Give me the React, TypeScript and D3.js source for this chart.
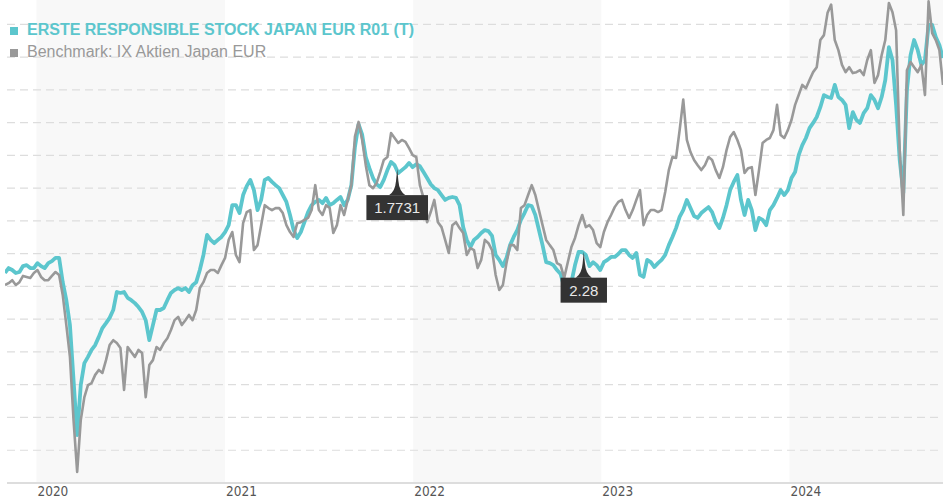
import React from "react";
import * as d3 from "d3";

// Weekly observations starting 2019-11-01 (indexed performance)
const fundValues: number[] = [
  124.1, 125.6, 125.0, 124.1, 124.4, 126.2, 126.5, 125.6, 125.6, 127.1,
  126.2, 125.6, 127.1, 127.7, 128.7, 128.7, 121.3, 115.8, 108.2, 91.4,
  74.6, 89.9, 96.6, 98.5, 100.6, 102.1, 104.6, 107.3, 108.8, 110.4,
  112.8, 118.3, 118.0, 118.3, 116.5, 115.8, 114.9, 113.7, 112.2, 109.7,
  103.6, 108.2, 112.8, 112.8, 113.4, 115.8, 118.0, 118.9, 119.5, 118.9,
  119.5, 118.3, 120.4, 121.3, 125.0, 129.6, 135.7, 134.2, 133.2, 134.2,
  135.1, 136.6, 138.7, 144.8, 144.8, 142.4, 147.9, 150.6, 152.5, 149.4,
  143.3, 146.4, 152.5, 153.1, 151.9, 150.9, 150.0, 147.9, 145.8, 141.8,
  137.2, 134.8, 136.6, 139.6, 142.7, 144.8, 145.8, 146.4, 145.4, 147.0,
  144.8, 145.4, 146.4, 147.3, 144.8, 146.4, 150.9, 162.6, 169.5, 166.3,
  159.5, 156.1, 153.1, 151.2, 150.3, 152.5, 155.5, 158.0, 157.0, 154.6,
  155.5, 156.4, 157.7, 156.4, 157.3, 156.7, 154.9, 153.1, 151.2, 150.0,
  149.4, 147.9, 146.4, 147.0, 147.3, 147.0, 144.8, 138.1, 134.2, 132.0,
  134.2, 135.1, 136.3, 137.2, 136.9, 135.4, 129.6, 128.1, 126.2, 128.7,
  132.6, 135.1, 137.2, 140.3, 142.4, 144.8, 144.5, 141.8, 137.2, 132.6,
  127.4, 127.1, 126.5, 125.0, 123.8, 119.8, 118.9, 121.3, 126.5, 130.5,
  130.5, 129.6, 126.2, 127.4, 126.5, 125.0, 127.4, 128.1, 129.0, 129.0,
  129.9, 131.1, 131.1, 129.6, 128.7, 130.2, 123.5, 122.9, 128.1, 127.4,
  125.9, 127.1, 128.1, 129.6, 132.6, 135.1, 137.8, 141.2, 143.3, 146.4,
  143.9, 141.5, 140.9, 142.4, 143.3, 144.2, 142.7, 139.6, 137.8, 140.9,
  144.8, 149.4, 151.9, 154.0, 146.4, 141.8, 146.4, 143.3, 137.2, 140.9,
  140.3, 138.7, 143.3, 144.8, 147.0, 149.4, 147.9, 149.4, 153.1, 154.9,
  160.1, 163.1, 165.3, 168.3, 169.9, 171.7, 174.7, 178.4, 177.8, 177.5,
  181.5, 177.8, 176.9, 175.4, 168.3, 173.2, 170.8, 169.9, 172.9, 174.4,
  178.4, 176.9, 174.4, 177.8, 183.0, 193.0, 189.1, 175.4, 158.6, 148.5,
  179.9, 190.6, 195.2, 192.1, 187.6, 189.1, 199.8, 199.8, 196.1, 193.7,
  189.7,
];

const benchValues: number[] = [
  120.4, 121.0, 121.9, 120.4, 121.3, 123.2, 122.9, 122.6, 124.1, 125.0,
  122.9, 121.9, 121.9, 123.2, 124.4, 123.5, 117.4, 108.2, 98.5, 79.2,
  63.4, 79.2, 86.2, 89.9, 90.5, 93.0, 94.5, 93.6, 97.5, 102.1,
  103.6, 102.7, 101.2, 88.4, 101.5, 100.0, 98.5, 100.6, 99.7, 86.2,
  96.0, 97.5, 101.5, 100.6, 102.7, 104.2, 106.7, 109.7, 110.7, 108.2,
  109.7, 111.3, 109.7, 112.8, 119.5, 121.3, 124.1, 125.0, 125.0, 124.1,
  126.5, 128.7, 134.2, 136.6, 129.6, 127.4, 139.3, 142.7, 143.3, 131.1,
  132.6, 138.7, 144.8, 143.9, 143.3, 143.9, 143.9, 142.4, 138.7, 136.6,
  135.1, 139.3, 139.6, 140.3, 140.9, 143.3, 150.9, 143.3, 141.8, 144.8,
  143.9, 136.3, 138.7, 144.8, 141.8, 146.4, 150.9, 165.7, 170.2, 164.7,
  157.0, 150.9, 150.0, 151.5, 154.9, 158.6, 159.5, 166.8, 165.3, 163.8,
  164.7, 164.1, 162.2, 160.1, 159.5, 150.9, 147.0, 139.6, 142.7, 146.4,
  139.6, 138.1, 134.2, 130.2, 138.7, 139.6, 137.8, 136.3, 129.6, 131.7,
  131.1, 125.6, 128.1, 134.2, 133.2, 131.1, 123.5, 118.9, 120.4, 127.1,
  132.6, 132.6, 131.1, 143.9, 144.8, 147.9, 150.9, 147.9, 143.3, 138.7,
  134.2, 132.6, 131.1, 127.1, 126.5, 122.6, 127.4, 132.0, 134.8, 138.7,
  141.8, 138.1, 138.7, 137.2, 133.2, 132.0, 136.6, 139.6, 141.8, 144.2,
  145.8, 146.4, 143.3, 140.9, 143.3, 146.4, 149.4, 138.7, 141.8, 143.3,
  143.3, 142.7, 143.3, 148.8, 155.5, 159.5, 159.2, 167.7, 177.0, 164.7,
  161.0, 158.6, 157.0, 155.5, 157.0, 159.5, 158.6, 155.5, 153.1, 156.4,
  161.6, 165.6, 167.1, 164.7, 161.6, 154.6, 156.1, 156.4, 147.9, 155.5,
  163.8, 164.7, 165.3, 167.7, 175.4, 166.2, 165.3, 167.7, 170.8, 175.4,
  178.4, 181.5, 180.5, 183.0, 185.4, 186.9, 195.2, 196.7, 203.5, 206.0,
  195.2, 192.1, 187.6, 185.4, 186.9, 185.1, 185.4, 186.0, 184.5, 189.1,
  192.1, 182.1, 184.5, 190.6, 195.2, 206.5, 203.7, 198.2, 161.6, 141.8,
  186.0, 188.5, 186.9, 185.4, 187.6, 178.4, 207.0, 197.3, 195.2, 192.1,
  181.5,
];

const yearLabels: string[] = ["2020", "2021", "2022", "2023", "2024"];
const shadedYears: number[] = [2020, 2022, 2024];
const gridValues: number[] = [70, 80, 90, 100, 110, 120, 130, 140, 150, 160, 170, 180, 190, 200];

const markerDates: string[] = ["2021-12-01", "2022-11-28"];
const markerValues: number[] = [155.8, 130.6];
const markerLabels: string[] = ["1.7731", "2.28"];

const legendNames: string[] = [
  "ERSTE RESPONSIBLE STOCK JAPAN EUR R01 (T)",
  "Benchmark: IX Aktien Japan EUR",
];

const TEAL = "#5cc6cd";
const GRAY = "#999999";

export default function App() {
  const W = 943;
  const H = 500;
  const left = 5;
  const right = 943;
  const bottom = 483;

  const start = new Date(2019, 10, 1);
  const dates = d3.range(fundValues.length).map((i) => d3.timeDay.offset(start, 7 * i));
  const end = dates[dates.length - 1];

  const x = d3.scaleTime().domain([start, end]).range([left, right]);
  const y = d3.scaleLinear().domain([60, 200]).range([bottom, 24.3]);

  const line = d3
    .line<number>()
    .x((_, i) => x(dates[i]))
    .y((d) => y(d))
    .curve(d3.curveLinear);

  const parse = d3.timeParse("%Y-%m-%d");
  const font = "'Liberation Sans', Arial, Helvetica, sans-serif";

  return (
    <svg
      width={W}
      height={H}
      style={{ position: "absolute", left: 0, top: 0, display: "block", background: "#fff" }}
    >
      <defs>
        <clipPath id="plotclip">
          <rect x={left} y={0} width={right - left} height={bottom} />
        </clipPath>
      </defs>

      {shadedYears.map((yr) => {
        const x0 = x(new Date(yr, 0, 1));
        const x1 = Math.min(right, x(new Date(yr + 1, 0, 1)));
        return <rect key={yr} x={x0} y={0} width={x1 - x0} height={bottom} fill="#f8f8f8" />;
      })}

      {gridValues.map((v) => (
        <line
          key={v}
          x1={7}
          x2={right}
          y1={y(v)}
          y2={y(v)}
          stroke="#dddddd"
          strokeWidth={1.2}
          strokeDasharray="8,5"
        />
      ))}

      <line x1={7} x2={right} y1={bottom} y2={bottom} stroke="#dddddd" strokeWidth={2} />

      {yearLabels.map((lab) => (
        <text
          key={lab}
          x={x(new Date(+lab, 0, 1)) + 1}
          y={496}
          fontFamily="'DejaVu Sans', sans-serif"
          fontStretch="condensed"
          fontSize={13.5}
          fill="#555"
        >
          {lab}
        </text>
      ))}

      <g clipPath="url(#plotclip)">
        <path
          d={line(fundValues) || ""}
          fill="none"
          stroke={TEAL}
          strokeWidth={3.8}
          strokeLinejoin="round"
        />
        <path
          d={line(benchValues) || ""}
          fill="none"
          stroke={GRAY}
          strokeWidth={2.6}
          strokeLinejoin="round"
        />
      </g>

      {markerDates.map((ds, i) => {
        const mx = x(parse(ds) as Date);
        const my = y(markerValues[i]);
        const label = markerLabels[i];
        const tw = label.length * 7.6 + 2;
        const bw = tw + 14;
        const by = my + 26;
        return (
          <g key={ds}>
            <path
              d={`M${mx},${my} L${mx + 1.2},${my + 12} Q${mx + 2},${my + 22} ${mx + 8},${by} L${mx - 8},${by} Q${mx - 2},${my + 22} ${mx - 1.2},${my + 12} Z`}
              fill="#333"
            />
            <rect x={mx - bw / 2} y={by} width={bw} height={25} fill="#333" />
            <text
              x={mx}
              y={by + 18}
              textAnchor="middle"
              fontFamily={font}
              fontSize={15}
              fill="#e8e8e8"
            >
              {label}
            </text>
          </g>
        );
      })}

      <rect x={10} y={27} width={8} height={8} fill={TEAL} />
      <text x={27} y={35} fontFamily={font} fontSize={16} fontWeight="bold" fill={TEAL}>
        {legendNames[0]}
      </text>
      <rect x={10} y={49} width={8} height={8} fill={GRAY} />
      <text x={27} y={57} fontFamily={font} fontSize={16} fill={GRAY}>
        {legendNames[1]}
      </text>
    </svg>
  );
}
